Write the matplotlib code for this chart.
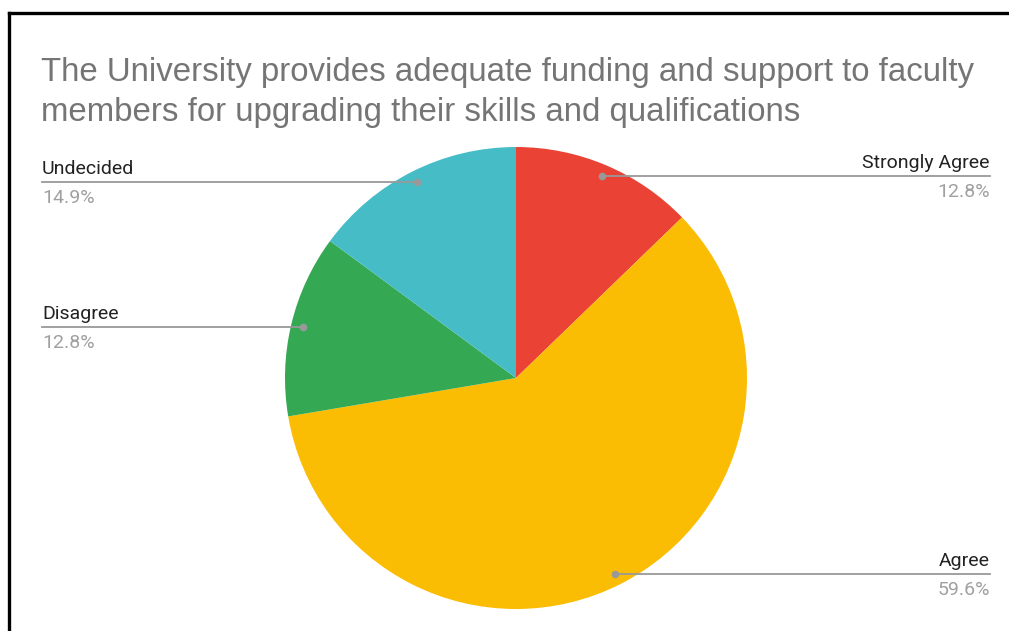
import matplotlib
matplotlib.use("Agg")
import matplotlib.pyplot as plt
from matplotlib.lines import Line2D
import numpy as np

title_lines = ["The University provides adequate funding and support to faculty",
               "members for upgrading their skills and qualifications"]
categories = ["Strongly Agree", "Agree", "Disagree", "Undecided"]
counts = [6, 28, 6, 7]
colors = ["#EA4335", "#FBBC04", "#34A853", "#46BDC6"]
label_side = ["right", "right", "left", "left"]

W, H = 1009, 631
fig = plt.figure(figsize=(W / 100, H / 100), dpi=100)
fig.patch.set_facecolor("white")

def fx(px):
    return px / W

def fy(py):
    return 1 - py / H

# frame lines (top and left)
fig.add_artist(Line2D([fx(9), fx(W)], [fy(13), fy(13)], color="black", lw=2.4, transform=fig.transFigure))
fig.add_artist(Line2D([fx(9), fx(9)], [fy(13), fy(H)], color="black", lw=2.4, transform=fig.transFigure))

# title
for line, base in zip(title_lines, [80.5, 121]):
    fig.text(fx(41), fy(base), line, ha="left", va="baseline", fontsize=23.8,
             family="Liberation Sans", color="#757575")

cx, cy, r = 516, 378, 231
ax = fig.add_axes([fx(cx - r), fy(cy + r), 2 * r / W, 2 * r / H])
ax.axis("off")

wedges, _ = ax.pie(counts, colors=colors, startangle=90, counterclock=False,
                   radius=1, wedgeprops=dict(linewidth=0))
ax.set_xlim(-1, 1)
ax.set_ylim(-1, 1)

total = sum(counts)
for w, cat, cnt, side in zip(wedges, categories, counts, label_side):
    mid = np.deg2rad((w.theta1 + w.theta2) / 2)
    dx, dy = 0.95 * np.cos(mid), 0.95 * np.sin(mid)
    px, py = ax.transData.transform((dx, dy))
    py_img = H - py
    if side == "right":
        x_end = 990
        ha = "right"
    else:
        x_end = 42
        ha = "left"
    fig.add_artist(Line2D([fx(px), fx(x_end)], [fy(py_img), fy(py_img)],
                          color="#999999", lw=1.3, transform=fig.transFigure))
    fig.add_artist(Line2D([fx(px)], [fy(py_img)], marker="o", markersize=4.5,
                          color="#999999", transform=fig.transFigure))
    fig.text(fx(x_end), fy(py_img - 8), cat, ha=ha, va="baseline",
             fontsize=14, family="Roboto", color="#222222")
    fig.text(fx(x_end), fy(py_img + 21), f"{100 * cnt / total:.1f}%", ha=ha, va="baseline",
             fontsize=14, family="Roboto", color="#A0A0A0")

fig.savefig("out.png", dpi=100)
